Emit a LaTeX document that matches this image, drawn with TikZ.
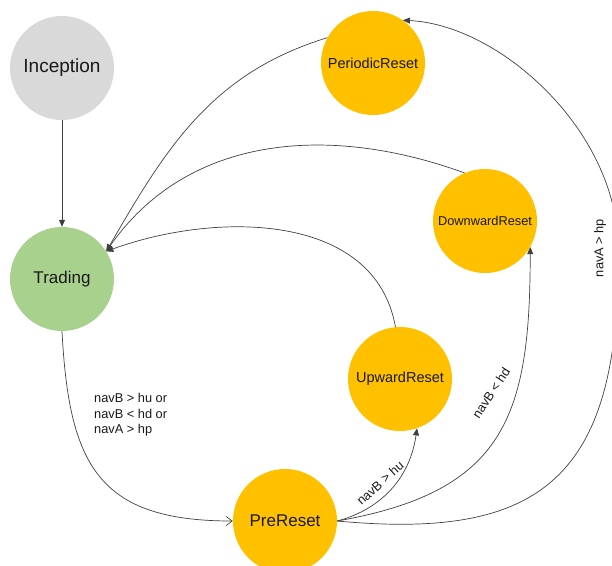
\documentclass[tikz,border=0pt]{standalone}
\usepackage{fontspec}
\setmainfont{Liberation Sans}
\usetikzlibrary{arrows.meta}
\definecolor{stategray}{HTML}{D9D9D9}
\definecolor{stategreen}{HTML}{A9D18E}
\definecolor{stateorange}{HTML}{FFC000}
\begin{document}
\begin{tikzpicture}[x=1pt, y=1pt,
    state/.style={circle, minimum size=104pt, inner sep=0pt, text=black!90},
    big/.style={font=\fontsize{17}{19}\selectfont},
    small/.style={font=\fontsize{14.5}{16}\selectfont},
    edge/.style={line width=0.7pt, draw=black!75},
    tip/.style={-{Triangle[length=7pt, width=6pt]}},
    lbl/.style={font=\fontsize{12.8}{15.5}\selectfont, text=black!90, inner sep=0pt}]
    \useasboundingbox (0,0) rectangle (612,-565);

    \node[state, fill=stategray, font=\fontsize{19}{21}\selectfont] (inception) at (62,-68) {Inception};
    \node[state, big, fill=stategreen] (trading) at (62,-279) {Trading};
    \node[state, small, fill=stateorange] (periodic) at (373,-63) {PeriodicReset};
    \node[state, fill=stateorange, font=\fontsize{12.8}{14}\selectfont] (downward) at (485,-221) {DownwardReset};
    \node[state, small, fill=stateorange] (upward) at (400,-379) {UpwardReset};
    \node[state, big, fill=stateorange] (prereset) at (285,-521) {PreReset};

    \draw[edge, tip] (inception) -- (trading);
    \draw[edge, -{Straight Barb[length=6pt, width=9pt]}] (trading.south) to[out=-87, in=180, looseness=1.35] (prereset.west);
    \node[lbl, anchor=west, align=left] (resetcond) at (94,-415) {navB > hu or\\navB < hd or\\navA > hp};

    % from PreReset
    \draw[edge, tip] (prereset.east) to[out=15, in=-98] (upward.-71);
    \draw[edge, tip] (prereset.east) to[out=10, in=-90, looseness=1.3] (downward.-30);
    \draw[edge, tip] (prereset.east) .. controls (540,-540) and (622,-480) .. (618,-245)
        .. controls (616,-130) and (500,-25) .. (periodic.55);
    \node[lbl, rotate=42] (upcond) at (380,-483) {navB > hu};
    \node[lbl, rotate=57] (downcond) at (491,-393) {navB < hd};
    \node[lbl, rotate=90] (periodcond) at (600,-248) {navA > hp};

    % back to Trading
    \draw[edge, tip] (periodic.151) to[out=197, in=60] (trading.32);
    \draw[edge, tip] (downward.113) to[out=160, in=55] (trading.32);
    \draw[edge, tip] (upward.95) to[out=100, in=20] (trading.32);
\end{tikzpicture}
\end{document}
